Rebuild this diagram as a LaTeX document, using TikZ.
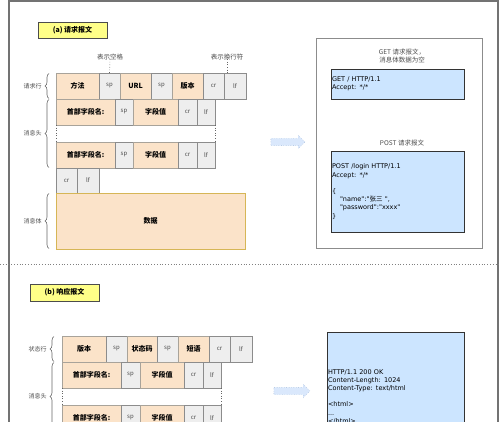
\documentclass[tikz,border=0pt]{standalone}
\usepackage{fontspec}
\setmainfont{Noto Sans CJK SC}
\newfontfamily\codefont{DejaVu Sans}
\usetikzlibrary{positioning,shapes.arrows,decorations.pathreplacing}
\definecolor{fieldfill}{HTML}{FBE3C9}
\definecolor{fieldline}{HTML}{A8A39A}
\definecolor{ctlfill}{HTML}{EEEEEE}
\definecolor{ctlline}{HTML}{8C8C8C}
\definecolor{datline}{HTML}{D6B656}
\definecolor{titlefill}{HTML}{FFFF88}
\definecolor{codefill}{HTML}{CCE5FF}
\definecolor{arrfill}{HTML}{DAE8FC}
\definecolor{arrline}{HTML}{7E9CC8}
\tikzset{
  fld/.style={
    draw=fieldline, fill=fieldfill, inner sep=0pt, outer sep=0pt,
    minimum height=26pt, font=\bfseries\fontsize{7}{8}\selectfont
  },
  ctl/.style={
    draw=ctlline, fill=ctlfill, inner sep=0pt, outer sep=0pt,
    minimum height=26pt, text=black!70, font=\fontsize{6}{7}\selectfont
  },
  titlebox/.style={
    draw=black!70, fill=titlefill, minimum width=69pt, minimum height=16pt,
    inner sep=0pt, font=\bfseries\fontsize{7}{8}\selectfont
  },
  codebox/.style={
    draw=black!80, fill=codefill, inner sep=1pt, align=left,
    font=\codefont\fontsize{6.5}{8.2}\selectfont
  },
  sidelbl/.style={text=black!70, inner sep=0pt, font=\fontsize{6}{7}\selectfont},
  note/.style={text=black!70, inner sep=0pt, align=center, font=\fontsize{6.5}{8}\selectfont},
  lead/.style={draw=black!60, dotted, line width=0.6pt},
  brc/.style={decorate, decoration={brace, amplitude=4pt}, draw=black!60, line width=0.6pt},
  hollow/.style={
    single arrow, draw=arrline, dotted, fill=arrfill, inner sep=0pt,
    single arrow head extend=3pt
  },
}

\begin{document}
\begin{tikzpicture}[x=1pt, y=-1pt]
  \clip (0,0) rectangle (500,422);
  \fill[white] (0,0) rectangle (500,422);
  % frame and separator
  \draw[black!55, line width=1.2pt] (9,430) -- (9,1) -- (498,1) -- (498,430);
  \draw[black!50, dotted, line width=0.8pt] (0,264) -- (500,264);

  % (a) request
  \node[titlebox] (ta) at (72.5,30) {(a)\ 请求报文};

  \node[fld, minimum width=43pt, anchor=west] (r1) at (56,86) {方法};
  \node[ctl, minimum width=21pt, right=0pt of r1] (r2) {sp};
  \node[fld, minimum width=31pt, right=0pt of r2] (r3) {URL};
  \node[ctl, minimum width=21pt, right=0pt of r3] (r4) {sp};
  \node[fld, minimum width=31pt, right=0pt of r4] (r5) {版本};
  \node[ctl, minimum width=21pt, right=0pt of r5] (r6) {cr};
  \node[ctl, minimum width=22pt, right=0pt of r6] (r7) {lf};

  \node[fld, minimum width=59pt, anchor=west] (h1) at (56,112) {首部字段名:};
  \node[ctl, minimum width=18pt, right=0pt of h1] (h1sp) {sp};
  \node[fld, minimum width=45pt, right=0pt of h1sp] (h1v) {字段值};
  \node[ctl, minimum width=19pt, right=0pt of h1v] (h1cr) {cr};
  \node[ctl, minimum width=18pt, right=0pt of h1cr] (h1lf) {lf};

  \node[fld, minimum width=59pt, anchor=west] (h2) at (56,155) {首部字段名:};
  \node[ctl, minimum width=18pt, right=0pt of h2] (h2sp) {sp};
  \node[fld, minimum width=45pt, right=0pt of h2sp] (h2v) {字段值};
  \node[ctl, minimum width=19pt, right=0pt of h2v] (h2cr) {cr};
  \node[ctl, minimum width=18pt, right=0pt of h2cr] (h2lf) {lf};

  \node[ctl, minimum width=21pt, minimum height=25pt, anchor=north west] (e1) at (56,168) {cr};
  \node[ctl, minimum width=22pt, minimum height=25pt, right=0pt of e1] (e2) {lf};

  \node[fld, draw=datline, minimum width=189pt, minimum height=56pt, anchor=north west] (dat) at (56,193) {数据};

  \draw[lead] (h1.south west) -- (h2.north west);
  \draw[lead] (h1lf.south east) -- (h2lf.north east);

  \node[note] (nsp) at (110,57) {表示空格};
  \node[note] (ncrlf) at (227,57) {表示换行符};
  \draw[lead] ([yshift=1pt]nsp.south) -- (r2.north);
  \draw[lead] ([yshift=1pt]ncrlf.south) -- (ncrlf.south |- r7.north);

  \draw[brc] ([shift={(-7,-0.5)}]r1.south west) -- ([shift={(-7,0.5)}]r1.north west)
    node[midway, left=7pt, sidelbl] (lr) {请求行};
  \draw[brc] ([shift={(-7,-0.5)}]h2.south west) -- ([shift={(-7,0.5)}]h1.north west)
    node[midway, left=7pt, sidelbl] (lh) {消息头};
  \draw[brc] ([shift={(-7,-0.5)}]dat.south west) -- ([shift={(-7,0.5)}]dat.north west)
    node[midway, left=7pt, sidelbl] (lb) {消息体};

  \node[hollow] (ara) at (286,142) {\rule{30pt}{0pt}\rule{0pt}{7pt}};

  \node[draw=black!45, line width=1pt, minimum width=166pt, minimum height=210pt] (outa) at (399,143.5) {};
  \node[note] (cget) at (402,56) {GET 请求报文，\\消息体数据为空};
  \node[codebox, text width=131pt, minimum height=30pt] (get) at (397.5,84)
    {GET / HTTP/1.1\\Accept: */*};
  \node[note] (cpost) at (402,143) {POST 请求报文};
  \node[codebox, text width=131pt, minimum height=81pt] (post) at (397.5,191.5)
    {POST /login HTTP/1.1\\Accept: */*\\[8.2pt]
     \{\\\hspace*{8pt}"name":"{\normalfont 张三} ",\\\hspace*{8pt}"password":"xxxx"\\\}};

  % (b) response
  \node[titlebox, minimum height=17pt] (tb) at (64.5,292.5) {(b)\ 响应报文};

  \node[fld, minimum width=44pt, anchor=west] (s1) at (62,349) {版本};
  \node[ctl, minimum width=21pt, right=0pt of s1] (s2) {sp};
  \node[fld, minimum width=30pt, right=0pt of s2] (s3) {状态码};
  \node[ctl, minimum width=21pt, right=0pt of s3] (s4) {sp};
  \node[fld, minimum width=31pt, right=0pt of s4] (s5) {短语};
  \node[ctl, minimum width=21pt, right=0pt of s5] (s6) {cr};
  \node[ctl, minimum width=22pt, right=0pt of s6] (s7) {lf};

  \node[fld, minimum width=59pt, anchor=west] (k1) at (62,375) {首部字段名:};
  \node[ctl, minimum width=19pt, right=0pt of k1] (k1sp) {sp};
  \node[fld, minimum width=44pt, right=0pt of k1sp] (k1v) {字段值};
  \node[ctl, minimum width=19pt, right=0pt of k1v] (k1cr) {cr};
  \node[ctl, minimum width=18pt, right=0pt of k1cr] (k1lf) {lf};

  \node[fld, minimum width=59pt, anchor=west] (k2) at (62,418) {首部字段名:};
  \node[ctl, minimum width=19pt, right=0pt of k2] (k2sp) {sp};
  \node[fld, minimum width=44pt, right=0pt of k2sp] (k2v) {字段值};
  \node[ctl, minimum width=19pt, right=0pt of k2v] (k2cr) {cr};
  \node[ctl, minimum width=18pt, right=0pt of k2cr] (k2lf) {lf};

  \draw[lead] (k1.south west) -- (k2.north west);
  \draw[lead] (k1lf.south east) -- (k2lf.north east);

  \draw[brc] ([shift={(-8,-0.5)}]s1.south west) -- ([shift={(-8,0.5)}]s1.north west)
    node[midway, left=7pt, sidelbl] (ls) {状态行};
  \draw[brc] ([shift={(-8,-0.5)}]k2.south west) -- ([shift={(-8,0.5)}]k1.north west)
    node[midway, left=7pt, sidelbl] (lk) {消息头};

  \node[hollow] (arb) at (290,391) {\rule{32pt}{0pt}\rule{0pt}{7pt}};

  \node[codebox, text width=135pt, minimum height=129pt] (resp) at (395.5,396.5)
    {HTTP/1.1 200 OK\\Content-Length: 1024\\Content-Type: text/html\\[8.2pt]
     <html>\\...\\</html>};
\end{tikzpicture}
\end{document}
